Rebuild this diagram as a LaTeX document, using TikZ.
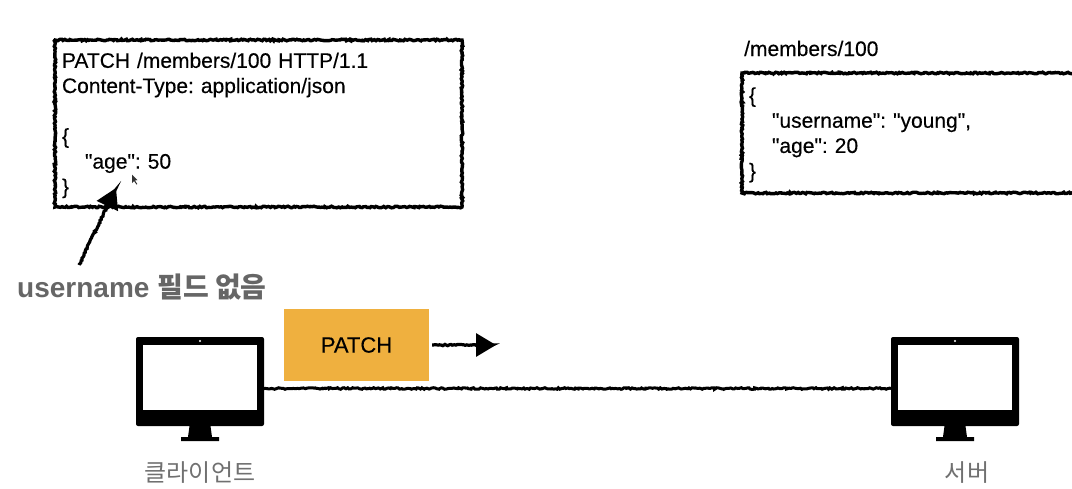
\documentclass[tikz,border=0pt]{standalone}
\usepackage{fontspec}
\setmainfont{Liberation Sans}
\newfontfamily\bodyfont{Liberation Sans}[FakeBold=0.35]
\newfontfamily\cjk{Noto Sans CJK KR}
\usetikzlibrary{decorations.pathmorphing,arrows.meta,calc}
\definecolor{patchfill}{HTML}{EFB03F}
\definecolor{notegray}{HTML}{666666}
\definecolor{labelgray}{HTML}{707070}
\tikzset{
  rough/.style={decorate,decoration={random steps,segment length=1.6pt,amplitude=0.8pt}},
  roughend/.style={decorate,decoration={random steps,segment length=1.6pt,amplitude=0.7pt,pre length=1pt,post length=4pt}},
  msgbox/.style={draw=black,line width=3.4pt,rough,anchor=north west,align=left,inner xsep=7pt,inner ysep=0pt,outer sep=0pt,
    font=\bodyfont\fontsize{21}{25.2}\selectfont,text=black},
  handarrow/.style={draw=black,line width=3.2pt,roughend,-{Triangle[length=20pt,width=23pt]}},
  wire/.style={draw=black,line width=3pt,rough},
  screenframe/.style={fill=black,rounded corners=2pt,minimum width=128pt,minimum height=89pt,inner sep=0pt,outer sep=0pt},
  screenglass/.style={fill=white,minimum width=114pt,minimum height=65pt,inner sep=0pt},
  devlabel/.style={text=labelgray,font=\cjk\fontsize{24}{30}\selectfont,inner sep=0pt},
}
\newcommand{\monitorat}[2]{%
  \node[screenframe] (#1) at (#2,381.5) {};
  \node[screenglass] (#1glass) at (#2,377.5) {};
  \node[fill=white,circle,inner sep=0pt,minimum size=2.4pt] (#1cam) at (#2,341) {};
  \fill[black] (#2-10.5,426) -- (#2+10.5,426) -- (#2+12,437) -- (#2+19,437) -- (#2+19,441) -- (#2-19,441) -- (#2-19,437) -- (#2-12,437) -- cycle;
}
\begin{document}
\begin{tikzpicture}[x=1pt,y=-1pt]
\useasboundingbox (0,0) rectangle (1072,488);
\clip (0,0) rectangle (1072,488);

% request box
\node[msgbox,text width=393pt,minimum height=167pt] (req) at (55,40) {%
\frenchspacing\rule{0pt}{19pt}PATCH /members/100 HTTP/1.1\\
Content-Type: application/json\\
\strut\\
\{\\
\hspace*{23pt}"age": 50\\
\}};

% cursor
\fill[black!80] (132,174.5) -- (132.2,183) -- (134,181) -- (136.5,184.5) -- (137.3,184) -- (135,180.5) -- (137.5,180) -- cycle;

% resource
\node[anchor=base west,inner sep=0pt,font=\bodyfont\fontsize{21}{24}\selectfont] (path) at (744,56) {/members/100};
\node[msgbox,text width=380pt,minimum height=120pt] (res) at (742,73) {%
\frenchspacing\rule{0pt}{19pt}\{\\
\hspace*{23pt}"username": "young",\\
\hspace*{23pt}"age": 20\\
\}};

% annotation
\node[anchor=base west,inner sep=0pt,text=notegray,font=\fontsize{28}{32}\selectfont\bfseries] (note) at (17,297) {username {\cjk 필드 없음}};
\coordinate (noteTail) at (79,265);
\coordinate (ageTip) at (116,188);
\draw[handarrow] (noteTail) -- (ageTip);

% monitors
\monitorat{client}{200}
\monitorat{server}{955}

% link
\draw[wire] ([yshift=-7pt]client.east) -- ([yshift=-7pt]server.west);

% PATCH message
\node[fill=patchfill,minimum width=145pt,minimum height=72pt,inner sep=0pt,font=\bodyfont\fontsize{22}{26}\selectfont] (patch) at (356.5,345) {PATCH};
\coordinate (flowEnd) at (496,345);
\draw[handarrow] ([xshift=3pt]patch.east) -- (flowEnd);

% labels
\node[devlabel] (clientlabel) at (200,473) {클라이언트};
\node[devlabel] (serverlabel) at (967,473) {서버};
\end{tikzpicture}
\end{document}
